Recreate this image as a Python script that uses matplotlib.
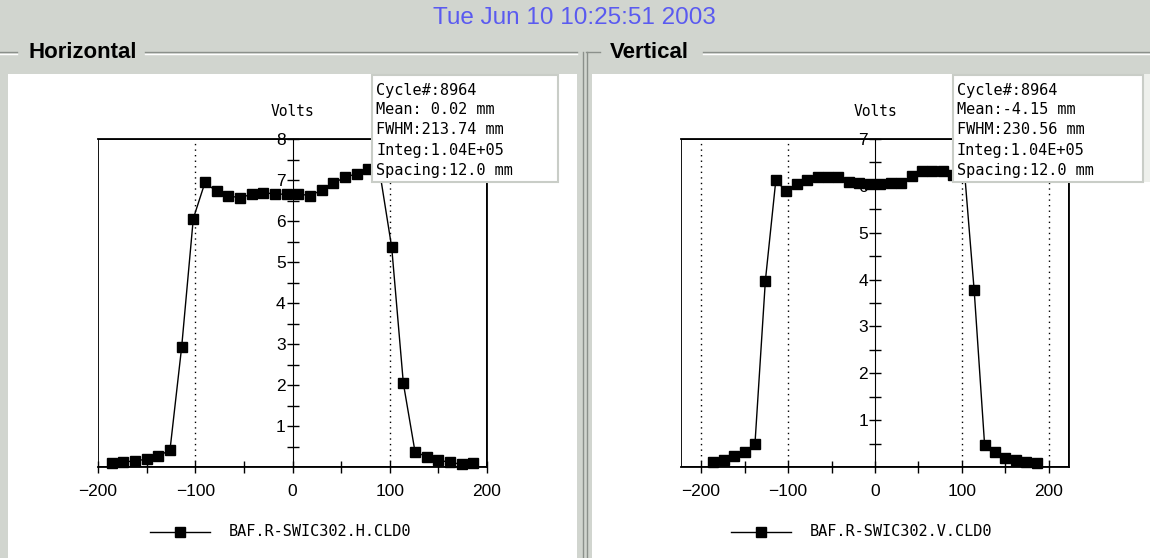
import matplotlib
matplotlib.use('Agg')
import matplotlib.pyplot as plt
from matplotlib.patches import Rectangle
from matplotlib.lines import Line2D
import numpy as np

# wire positions (mm), 12 mm spacing
positions = [-186, -174, -162, -150, -138, -126, -114, -102, -90, -78, -66,
             -54, -42, -30, -18, -6, 6, 18, 30, 42, 54, 66, 78, 90, 102, 114,
             126, 138, 150, 162, 174, 186]

h_volts = [0.09, 0.12, 0.15, 0.19, 0.27, 0.41, 2.92, 6.06, 6.94, 6.72, 6.61,
           6.57, 6.65, 6.69, 6.66, 6.65, 6.67, 6.61, 6.76, 6.92, 7.07, 7.15,
           7.26, 7.15, 5.36, 2.04, 0.37, 0.25, 0.17, 0.11, 0.07, 0.09]

v_volts = [0.11, 0.16, 0.23, 0.31, 0.49, 3.98, 6.12, 5.88, 6.05, 6.12, 6.19,
           6.19, 6.19, 6.08, 6.07, 6.04, 6.03, 6.06, 6.06, 6.22, 6.32, 6.32,
           6.31, 6.24, 6.50, 3.77, 0.47, 0.31, 0.19, 0.15, 0.11, 0.09]

h_stats = ["Cycle#:8964", "Mean: 0.02 mm", "FWHM:213.74 mm",
           "Integ:1.04E+05", "Spacing:12.0 mm"]
v_stats = ["Cycle#:8964", "Mean:-4.15 mm", "FWHM:230.56 mm",
           "Integ:1.04E+05", "Spacing:12.0 mm"]

title = "Tue Jun 10 10:25:51 2003"
h_name = "BAF.R-SWIC302.H.CLD0"
v_name = "BAF.R-SWIC302.V.CLD0"

W, H = 1150, 558
GRAY = '#d1d5cf'
DARK = '#8b908b'
MONO = 'DejaVu Sans Mono'
SANS = 'Liberation Sans'

fig = plt.figure(figsize=(W / 100, H / 100), dpi=100)
fig.patch.set_facecolor(GRAY)


def fx(x):
    return x / W


def fy(y):
    return 1 - y / H


def rect(x0, y0, x1, y1, **kw):
    r = Rectangle((fx(x0), fy(y1)), fx(x1) - fx(x0), fy(y0) - fy(y1),
                  transform=fig.transFigure, **kw)
    fig.add_artist(r)


def hline(x0, x1, y, color, lw=1):
    fig.add_artist(Line2D([fx(x0), fx(x1)], [fy(y), fy(y)], color=color,
                          lw=lw, transform=fig.transFigure))


def vline(x, y0, y1, color, lw=1):
    fig.add_artist(Line2D([fx(x), fx(x)], [fy(y0), fy(y1)], color=color,
                          lw=lw, transform=fig.transFigure))


# white panels
rect(8, 74, 577, H, facecolor='white', edgecolor='none', zorder=-5)
rect(592, 74, W, H, facecolor='white', edgecolor='none', zorder=-5)
rect(1141, 74, W, 182, facecolor='#eef0ec', edgecolor='none', zorder=-4)

# etched group-box lines
hline(0, 17, 52, DARK)
hline(0, 17, 53.5, 'white')
hline(145, 577, 52, DARK)
hline(145, 577, 53.5, 'white')
hline(586, 600, 52, DARK)
hline(703, W, 52, DARK)
hline(703, W, 53.5, 'white')
rect(577, 52, 592, H, facecolor=GRAY, edgecolor='none', zorder=-4)
vline(583, 52, H, DARK)
vline(586.5, 52, H, DARK)

fig.text(fx(574), fy(18), title, color='#5a5af0', fontsize=17.5,
         family=SANS, ha='center', va='center')
fig.text(fx(28), fy(52), "Horizontal", fontsize=16, fontweight='bold',
         family=SANS, ha='left', va='center')
fig.text(fx(610), fy(52), "Vertical", fontsize=16, fontweight='bold',
         family=SANS, ha='left', va='center')


def profile(ax_px, ymax, dotted, volts, stats, box_px, name, leg_px, xlim):
    x0, x1 = ax_px
    ax = fig.add_axes([fx(x0), fy(467), fx(x1) - fx(x0), fy(139) - fy(467)])
    ax.set_xlim(*xlim)
    ax.set_ylim(0, ymax)
    ax.set_facecolor('white')

    for xv in dotted:
        ax.axvline(xv, color='black', lw=1, ls=(0, (1, 3)), zorder=1)

    ax.plot(positions, volts, color='black', lw=1, marker='s', ms=6.5,
            zorder=3, clip_on=False)

    # y axis through x = 0, frame kept all round
    ax.spines['left'].set_position(('data', 0))
    ax.spines['left'].set_zorder(2)
    for s in ['top', 'right', 'bottom']:
        ax.spines[s].set_linewidth(1.3)
    ax.add_patch(Rectangle((0, 0), 1, 1, transform=ax.transAxes, fill=False,
                           lw=1.3, edgecolor='black', zorder=2))

    ax.set_yticks(np.arange(1, ymax + 1))
    ax.set_yticks(np.arange(0.5, ymax, 1.0), minor=True)
    ax.set_xticks([-200, -100, 0, 100, 200])
    ax.set_xticks([-150, -50, 50, 150], minor=True)
    ax.tick_params(axis='y', which='both', direction='inout', length=8,
                   width=1, labelsize=12.5, pad=1)
    ax.tick_params(axis='x', which='both', direction='inout', length=8,
                   width=1, labelsize=12.5, pad=8)
    for lab in ax.get_xticklabels() + ax.get_yticklabels():
        lab.set_family(SANS)

    cx = ax.transData.transform((0, 0))[0] / fig.dpi / fig.get_figwidth() * W
    fig.text(fx(cx), fy(112), "Volts", family=MONO, fontsize=10.5,
             ha='center', va='center')

    # statistics box
    bx0, bx1 = box_px
    rect(bx0, 75, bx1, 182, facecolor='white', edgecolor='#c9cdc7', lw=1.5,
         zorder=5)
    for i, line in enumerate(stats):
        fig.text(fx(bx0 + 4), fy(90 + 20 * i), line, family=MONO,
                 fontsize=11, ha='left', va='center', zorder=6)

    # legend
    lx0, lx1 = leg_px
    fig.add_artist(Line2D([fx(lx0), fx(lx1)], [fy(532), fy(532)],
                          color='black', lw=1, transform=fig.transFigure))
    fig.add_artist(Line2D([fx((lx0 + lx1) / 2)], [fy(532)], color='black',
                          marker='s', ms=6.5, transform=fig.transFigure))
    fig.text(fx(lx1 + 19), fy(532), name, family=MONO, fontsize=11,
             ha='left', va='center')
    return ax


profile((98, 487), 8, [-100, 100], h_volts, h_stats, (372, 558), h_name,
        (150, 210), (-200, 200))
profile((681, 1069), 7, [-200, -100, 100, 200], v_volts, v_stats,
        (953, 1143), v_name, (731, 791), (-223, 223))

fig.savefig('out.png', dpi=100, facecolor=fig.get_facecolor())
